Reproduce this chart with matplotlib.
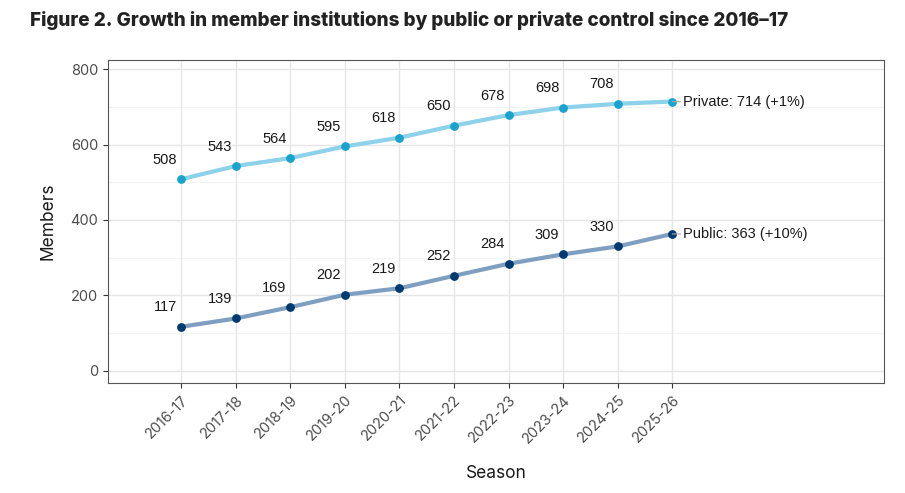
import matplotlib.pyplot as plt

seasons = ['2016-17', '2017-18', '2018-19', '2019-20', '2020-21',
           '2021-22', '2022-23', '2023-24', '2024-25', '2025-26']
private = [508, 543, 564, 595, 618, 650, 678, 698, 708, 714]
public = [117, 139, 169, 202, 219, 252, 284, 309, 330, 363]
private_end = 'Private: 714 (+1%)'
public_end = 'Public: 363 (+10%)'

tick_font = 'Inter'
label_font = 'Liberation Sans'

fig = plt.figure(figsize=(9.05, 4.93), dpi=100)
ax = fig.add_axes([108 / 905, 1 - 383 / 493, (884 - 108) / 905, (383 - 60) / 493])

x = list(range(len(seasons)))

# gridlines
for v in [100, 300, 500, 700]:
    ax.axhline(v, color='#f3f3f3', lw=0.8, zorder=0)
for v in [0, 200, 400, 600, 800]:
    ax.axhline(v, color='#e6e6e6', lw=1.0, zorder=0)
for xi in x:
    ax.axvline(xi, color='#e6e6e6', lw=1.0, zorder=0)

ax.plot(x, private, color='#8dd1ea', lw=3, zorder=2, solid_capstyle='round')
ax.scatter(x, private, color='#1aa3cc', s=28, zorder=3)
ax.plot(x, public, color='#7f9fc0', lw=3, zorder=2, solid_capstyle='round')
ax.scatter(x, public, color='#003a70', s=28, zorder=3)

for series in (private, public):
    for xi, v in zip(x[:-1], series[:-1]):
        ax.annotate(str(v), (xi, v), xytext=(-11.5, 9), textcoords='offset points',
                    ha='center', va='bottom', fontsize=10.5, family=label_font, color='#1a1a1a')

# end labels with short connector
for v, txt in [(private[-1], private_end), (public[-1], public_end)]:
    ax.annotate(txt, (x[-1], v), xytext=(8, 0), textcoords='offset points',
                ha='left', va='center', fontsize=10.5, family=label_font, color='#1a1a1a',
                arrowprops=dict(arrowstyle='-', color='#aaaaaa', lw=0.8,
                                shrinkA=0, shrinkB=0))

ax.set_xlim(-1.34, 12.88)
ax.set_ylim(-32, 824)
ax.set_yticks([0, 200, 400, 600, 800])
ax.set_xticks(x)
ax.set_xticklabels(seasons, rotation=45, ha='right', rotation_mode='anchor')
for lab in ax.get_xticklabels() + ax.get_yticklabels():
    lab.set_family(tick_font)
    lab.set_fontsize(10.5)
    lab.set_color('#4d4d4d')
ax.tick_params(axis='both', length=3.5, color='#333333', width=0.8)

for s in ax.spines.values():
    s.set_color('#555555')
    s.set_linewidth(0.8)

ax.set_ylabel('Members', family=tick_font, fontsize=12.5, color='#1a1a1a', labelpad=10)
ax.set_xlabel('Season', family=tick_font, fontsize=12.5, color='#1a1a1a', labelpad=14)

fig.text(30 / 905, 1 - 20 / 493, 'Figure 2. Growth in member institutions by public or private control since 2016\u201317',
         family=tick_font, fontweight='heavy', fontsize=13.6, color='#222222', va='center', ha='left')

fig.savefig('out.png', dpi=100)
